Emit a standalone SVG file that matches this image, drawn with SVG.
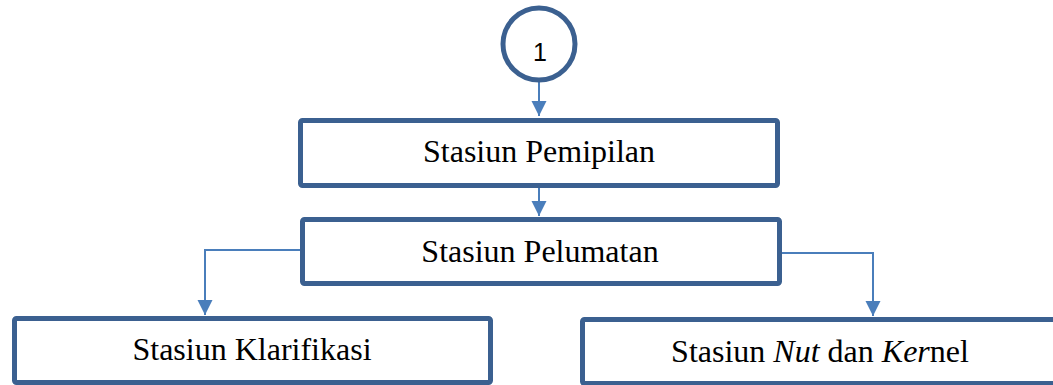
<svg xmlns="http://www.w3.org/2000/svg" width="1053" height="385" viewBox="0 0 1053 385">
<style>
.box{fill:#fff;stroke:#3B6090;stroke-width:5}
.lbl{font-family:"Liberation Serif","Times New Roman",serif;font-size:32px;fill:#000;text-anchor:middle}
.num{font-family:"Liberation Sans",Arial,sans-serif;font-size:25px;fill:#000;text-anchor:middle}
.conn{fill:none;stroke:#4A7EBB;stroke-width:2}
</style>
<defs>
<marker id="ah" markerUnits="userSpaceOnUse" markerWidth="16" markerHeight="16" refX="15" refY="7.5" orient="auto">
<path d="M0,0 L15,7.5 L0,15 Z" fill="#4A7EBB"/>
</marker>
</defs>
<rect width="1053" height="385" fill="#fff"/>
<g id="connectors">
<path class="conn" d="M539,82 V116" marker-end="url(#ah)"/>
<path class="conn" d="M539,188 V216" marker-end="url(#ah)"/>
<path class="conn" d="M300,250 H205 V315" marker-end="url(#ah)"/>
<path class="conn" d="M779,253 H873 V316" marker-end="url(#ah)"/>
</g>
<g id="n1">
<circle cx="539" cy="44" r="36" fill="#fff" stroke="#3B6090" stroke-width="5"/>
<text class="num" x="540" y="61">1</text>
</g>
<g id="n2">
<rect class="box" x="300.5" y="120.5" width="477" height="65" rx="2"/>
<text class="lbl" x="539" y="162">Stasiun Pemipilan</text>
</g>
<g id="n3">
<rect class="box" x="302.5" y="219.5" width="477" height="64" rx="2"/>
<text class="lbl" x="540" y="262">Stasiun Pelumatan</text>
</g>
<g id="n4">
<rect class="box" x="14.5" y="318.5" width="476" height="64" rx="2"/>
<text class="lbl" x="252" y="360">Stasiun Klarifikasi</text>
</g>
<g id="n5">
<rect class="box" x="582.5" y="319.5" width="476" height="64" rx="2"/>
<text class="lbl" x="820" y="362">Stasiun <tspan font-style="italic">Nut</tspan> dan <tspan font-style="italic">Ker</tspan>nel</text>
</g>
</svg>
